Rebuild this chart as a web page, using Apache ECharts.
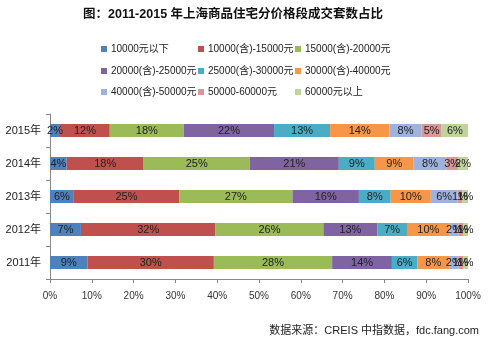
<!DOCTYPE html>
<html><head><meta charset="utf-8">
<script src="https://cdn.jsdelivr.net/npm/echarts@6/dist/echarts.min.js"></script>
<style>html,body{margin:0;padding:0;background:#fff}#c{width:495px;height:346px}</style>
</head><body><div id="c"></div>
<script>
var categories = ['2011年','2012年','2013年','2014年','2015年'];
var seriesNames = ['10000元以下','10000(含)-15000元','15000(含)-20000元','20000(含)-25000元','25000(含)-30000元','30000(含)-40000元','40000(含)-50000元','50000-60000元','60000元以上'];
var s1 = [9.0, 7.4, 5.7, 4.0, 2.4];
var s2 = [30.2, 32.2, 25.2, 18.4, 11.9];
var s3 = [28.3, 25.8, 27.1, 25.4, 17.7];
var s4 = [14.3, 12.9, 15.9, 21.3, 21.6];
var s5 = [6.1, 7.1, 7.6, 8.6, 13.4];
var s6 = [7.6, 10.2, 9.6, 9.3, 14.2];
var s7 = [2.2, 2.1, 6.4, 7.8, 7.7];
var s8 = [1.1, 1.1, 1.2, 2.8, 4.8];
var s9 = [1.2, 1.2, 1.3, 2.4, 6.3];
var xTicks = ['0%','10%','20%','30%','40%','50%','60%','70%','80%','90%','100%'];
var colors = ['#4F81BD','#C0504D','#9BBB59','#8064A2','#4BACC6','#F79646','#9DB2DC','#D99795','#BFD49B'];
var allData = [s1,s2,s3,s4,s5,s6,s7,s8,s9];

var font = 'Liberation Sans, Arial, Noto Sans CJK SC, sans-serif';
var legendPos = [[101,44],[198,44],[295,44],[101,66],[198,66],[295,66],[101,87],[198,87],[295,87]];
var legends = seriesNames.map(function(n,i){
  return {data:[n], left:legendPos[i][0], top:legendPos[i][1], itemWidth:6, itemHeight:6, itemGap:0,
    icon:'rect', textStyle:{fontSize:10, color:'#222', fontFamily:font, padding:[0,0,0,-1]}, padding:0, selectedMode:false};
});
var series = seriesNames.map(function(n,i){
  return {name:n, type:'bar', stack:'a', barWidth:13, data:allData[i],
    itemStyle:{color:colors[i]},
    label:{show:true, position:'inside', color:'#222', fontSize:11, fontFamily:font,
      formatter:function(p){return Math.round(p.value)+'%';}}};
});
var chart = echarts.init(document.getElementById('c'));
chart.setOption({
  animation:false,
  color:colors,
  title:{text:'图：2011-2015 年上海商品住宅分价格段成交套数占比', left:78, top:3,
    textStyle:{fontSize:12.5, fontWeight:'bold', color:'#111', fontFamily:font}},
  legend:legends,
  grid:{left:50, right:27, top:114, bottom:67},
  xAxis:{type:'value', min:0, max:100, interval:10,
    axisLine:{show:true, lineStyle:{color:'#888'}},
    axisTick:{show:true, length:4, lineStyle:{color:'#888'}},
    splitLine:{show:false},
    axisLabel:{margin:12, fontSize:10, color:'#333', fontFamily:font,
      formatter:function(v){return xTicks[Math.round(v/10)];}}},
  yAxis:{type:'category', data:categories,
    axisLine:{show:true, lineStyle:{color:'#888'}},
    axisTick:{show:true, length:4, lineStyle:{color:'#888'}},
    axisLabel:{margin:9, fontSize:11, color:'#222', fontFamily:font}},
  graphic:[{type:'text', right:16, top:325, style:{text:'数据来源：CREIS 中指数据，fdc.fang.com', fontSize:11, fill:'#222', fontFamily:font}}],
  series:series
});
</script></body></html>
